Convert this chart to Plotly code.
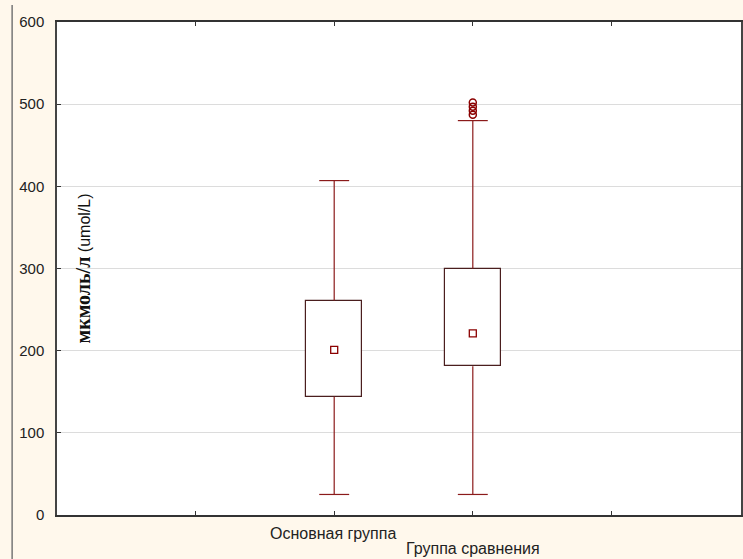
import plotly.graph_objects as go

# ---- data ----
groups = ["Основная группа", "Группа сравнения"]
positions = [2, 3]
lower = [25, 25]
q1 = [144, 181]
center = [201, 221]
q3 = [261, 300]
upper = [407, 480]
outliers_group2 = [487, 492, 497, 502]

tick_positions = [1, 2, 3, 4]
y_ticks = [0, 100, 200, 300, 400, 500, 600]

BOX_W = 0.40
CAP_HALF = 0.108
WHISKER = "#8B1A1A"
BOXLINE = "#4A1E1E"

fig = go.Figure()

# boxes
fig.add_trace(go.Bar(
    x=positions, base=q1, y=[b - a for a, b in zip(q1, q3)],
    width=BOX_W, marker=dict(color="white", line=dict(color=BOXLINE, width=1.2)),
    showlegend=False, hoverinfo="skip"))

# whiskers
wx, wy = [], []
for p, lo, a, b, hi in zip(positions, lower, q1, q3, upper):
    wx += [p, p, None, p, p, None]
    wy += [lo, a, None, b, hi, None]
fig.add_trace(go.Scatter(x=wx, y=wy, mode="lines",
                         line=dict(color=WHISKER, width=1.2),
                         showlegend=False, hoverinfo="skip"))

# caps
cx, cy = [], []
for p, lo, hi in zip(positions, lower, upper):
    cx += [p - CAP_HALF, p + CAP_HALF, None, p - CAP_HALF, p + CAP_HALF, None]
    cy += [lo, lo, None, hi, hi, None]
fig.add_trace(go.Scatter(x=cx, y=cy, mode="lines",
                         line=dict(color=WHISKER, width=1.2),
                         showlegend=False, hoverinfo="skip"))

# center markers
fig.add_trace(go.Scatter(x=positions, y=center, mode="markers",
                         marker=dict(symbol="square-open", size=7,
                                     color="#8B0000", line=dict(width=1.3)),
                         showlegend=False, hoverinfo="skip"))

# outliers
fig.add_trace(go.Scatter(x=[positions[1]] * len(outliers_group2), y=outliers_group2,
                         mode="markers",
                         marker=dict(symbol="circle-open", size=7,
                                     color="#8B0000", line=dict(width=1.5)),
                         showlegend=False, hoverinfo="skip"))

# staggered category labels placed on the x scale
label_shift_y = [-18, -33]
label_shift_x = [-1.5, 0.5]
annotations = []
for p, g, sy, sx in zip(positions, groups, label_shift_y, label_shift_x):
    annotations.append(dict(xref="x", yref="paper", x=p, y=0, text=g,
                            showarrow=False, xanchor="center", yanchor="middle",
                            yshift=sy, xshift=sx,
                            font=dict(size=16, color="#222")))

annotations.append(dict(
    xref="paper", yref="paper", x=(83 - 57) / 686, y=0.5,
    text="<b><span style='font-family:Liberation Serif, Times New Roman, serif;font-size:20px'>мкмоль/л</span></b> (umol/L)",
    textangle=-90, showarrow=False, font=dict(size=16, color="#111"),
    xanchor="center", yanchor="middle"))

fig.update_layout(
    width=743, height=559,
    margin=dict(l=57, r=0, t=22, b=44),
    paper_bgcolor="#FFF8EC",
    plot_bgcolor="white",
    font=dict(family="Liberation Sans, Arial, sans-serif", size=15, color="#222"),
    bargap=0,
    xaxis=dict(range=[0, 4.935], tickvals=tick_positions,
               ticktext=["" for _ in tick_positions],
               ticks="inside", ticklen=4, tickcolor="#333",
               showline=True, linecolor="#333", linewidth=1.5, mirror="ticks",
               showgrid=False, zeroline=False),
    yaxis=dict(range=[0, 600], tickvals=y_ticks,
               ticks="inside", ticklen=4, tickcolor="#333",
               showline=True, linecolor="#444", linewidth=1.5, mirror=True,
               showgrid=True, gridcolor="#DCDCDC", gridwidth=1,
               zeroline=False, ticklabelstandoff=8, tickfont=dict(size=15)),
    annotations=annotations,
    shapes=[dict(type="line", xref="paper", yref="paper",
                 x0=(12 - 57) / 686, x1=(12 - 57) / 686, y0=-44 / 493, y1=1 + 17 / 493,
                 line=dict(color="#777", width=1.5))],
)

fig.write_html("out.html", config={"displayModeBar": False},
               post_script="document.body.style.margin='0';document.body.style.background='#FFF8EC';")
